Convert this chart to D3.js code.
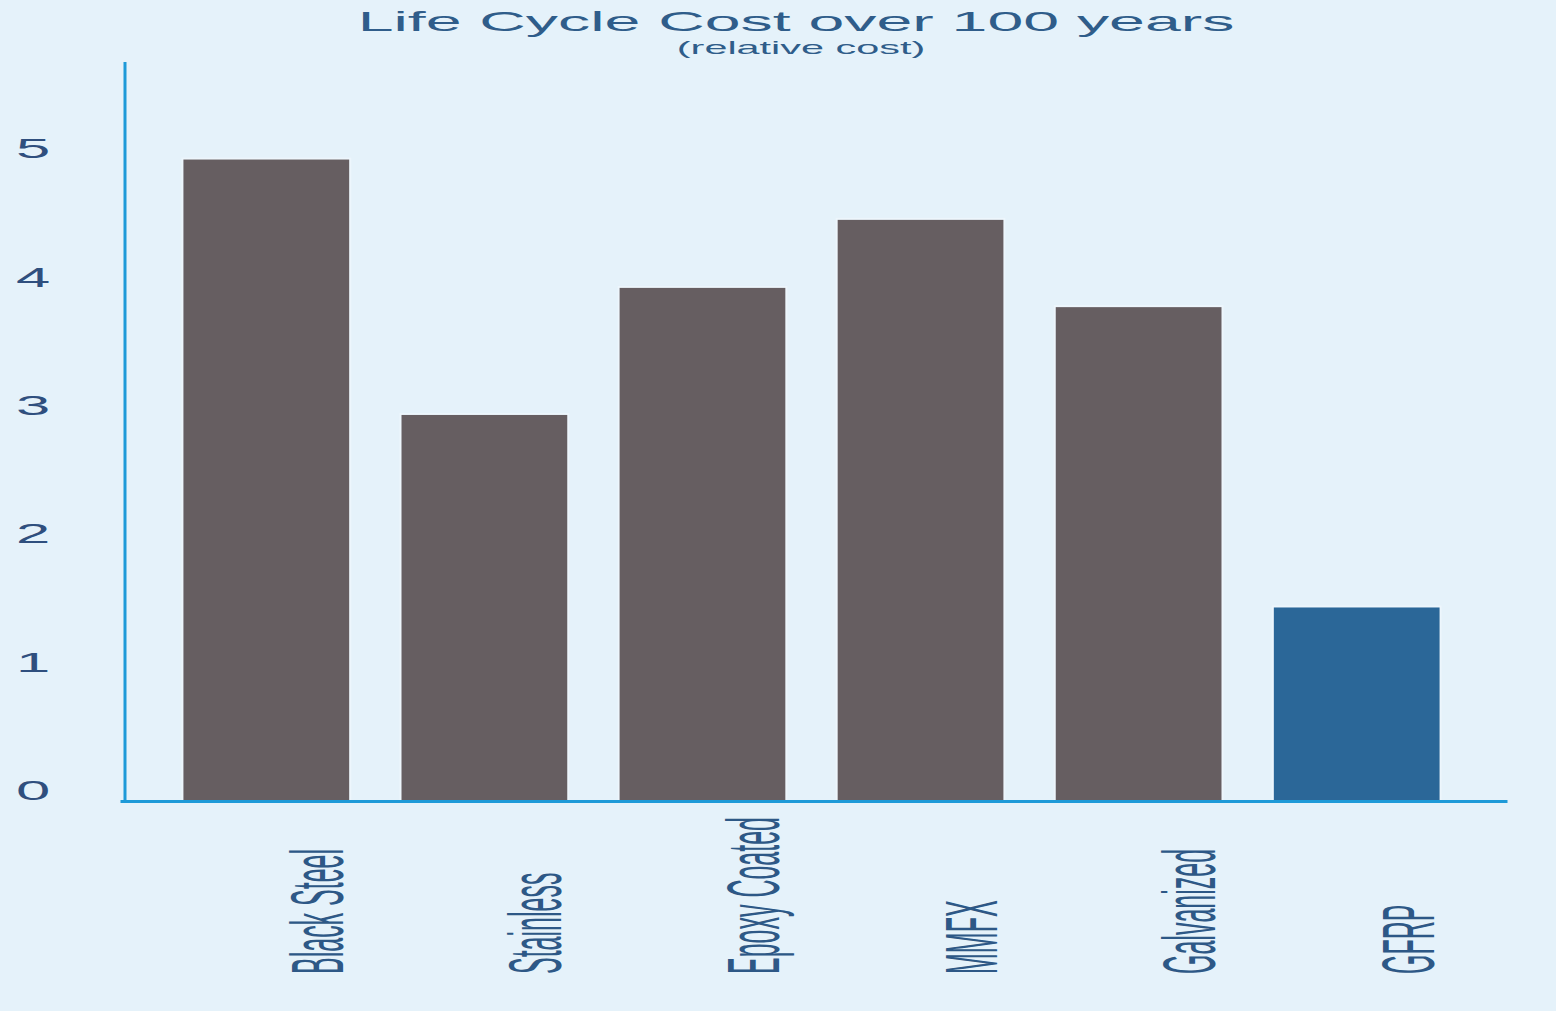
<!DOCTYPE html>
<html>
<head>
<meta charset="utf-8">
<script src="https://cdn.jsdelivr.net/npm/d3@7"></script>
<style>
  html, body { margin: 0; padding: 0; background: #e5f2fa; }
  svg { display: block; }
</style>
</head>
<body>
<svg id="chart" width="1556" height="1011"></svg>
<script>
// Life cycle cost per reinforcement material (relative cost)
const categories = ["Black Steel", "Stainless", "Epoxy Coated", "MMFX", "Galvanized", "GFRP"];
const costs = [4.99, 3.0, 3.99, 4.52, 3.84, 1.5];
const yTicks = [0, 1, 2, 3, 4, 5];
const titleText = "Life Cycle Cost over 100 years";
const subtitleText = "(relative cost)";

const W = 1556, H = 1011;
const SX = 2.2;             // horizontal stretch of all lettering
const axisBlue = "#1e9ad8";
const textBlue = "#2d5886";
const font = "'Liberation Sans', Arial, sans-serif";

const svg = d3.select("#chart");

svg.append("rect").attr("width", W).attr("height", H).attr("fill", "#e5f2fa");

const x = d3.scaleBand()
  .domain(categories)
  .range([118, 1505])
  .paddingInner(0.24)
  .paddingOuter(0.3);

const y = d3.scaleLinear().domain([0, 5.75]).range([800, 62]);

// faint light halo around each bar
svg.append("g").selectAll("rect")
  .data(categories)
  .join("rect")
  .attr("x", d => x(d) - 2)
  .attr("y", (d, i) => y(costs[i]) - 2)
  .attr("width", x.bandwidth() + 4)
  .attr("height", (d, i) => y(0) - y(costs[i]) + 2)
  .attr("fill", "#f7fbfe")
  .attr("opacity", 0.45);

// bars
svg.append("g").selectAll("rect")
  .data(categories)
  .join("rect")
  .attr("x", d => x(d))
  .attr("y", (d, i) => y(costs[i]))
  .attr("width", x.bandwidth())
  .attr("height", (d, i) => y(0) - y(costs[i]))
  .attr("fill", d => d === "GFRP" ? "#2b6798" : "#665e61");

// y axis
const yAxis = svg.append("g")
  .attr("transform", "translate(125,0)")
  .call(d3.axisLeft(y).tickValues(yTicks).tickSize(0).tickFormat(d3.format("d")));
yAxis.select(".domain")
  .attr("stroke", axisBlue)
  .attr("stroke-width", 3)
  .attr("d", `M0,${y(5.75)}V${y(0) + 3}`);
yAxis.selectAll(".tick text")
  .attr("x", null)
  .attr("dy", null)
  .attr("text-anchor", "middle")
  .attr("dominant-baseline", "central")
  .attr("transform", "translate(-92,-10) scale(" + SX + ",1)")
  .attr("font-family", font)
  .attr("font-size", 28)
  .attr("fill", "#2f4f7e");

// x axis baseline
svg.append("g")
  .attr("transform", `translate(0,${y(0) + 1})`)
  .call(d3.axisBottom(d3.scaleLinear().domain([0, 1]).range([120, 1507])).ticks(0).tickSize(0))
  .select(".domain")
  .attr("stroke", axisBlue)
  .attr("stroke-width", 3);

// rotated category labels
svg.append("g").selectAll("text")
  .data(categories)
  .join("text")
  .attr("transform", d => `translate(${x(d) + x.bandwidth() - 6},974) scale(3.0,1) rotate(-90)`)
  .attr("text-anchor", "start")
  .attr("font-family", font)
  .attr("font-size", 25)
  .attr("fill", textBlue)
  .text(d => d);

// title and subtitle
svg.append("text")
  .attr("transform", `translate(796,31) scale(2.3,1)`)
  .attr("text-anchor", "middle")
  .attr("font-family", font)
  .attr("font-size", 28)
  .attr("fill", "#2f5d8a")
  .text(titleText);

svg.append("text")
  .attr("transform", `translate(801,54) scale(2.3,1)`)
  .attr("text-anchor", "middle")
  .attr("font-family", font)
  .attr("font-size", 18)
  .attr("fill", "#2f5d8a")
  .text(subtitleText);
</script>
</body>
</html>
